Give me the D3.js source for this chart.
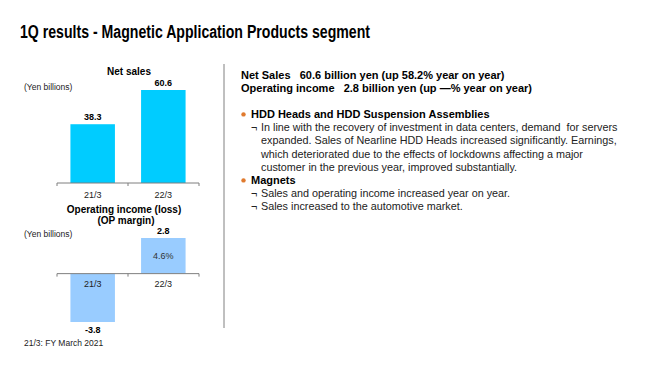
<!DOCTYPE html>
<html>
<head>
<meta charset="utf-8">
<script src="https://cdn.jsdelivr.net/npm/d3@7"></script>
<style>
  body { margin: 0; background: #fff; }
  text { font-family: "Liberation Sans", Arial, sans-serif; }
</style>
</head>
<body>
<script>
const W = 660, H = 371;

// data
const years = ["21/3", "22/3"];
const netSales = [38.3, 60.6];
const opIncome = [-3.8, 2.8];
const opMargin = [null, "4.6%"];

const headline = [
  "Net Sales   60.6 billion yen (up 58.2% year on year)",
  "Operating income   2.8 billion yen (up \u2014% year on year)"
];
const bullets = [
  {head: "HDD Heads and HDD Suspension Assemblies", items: [
    ["In line with the recovery of investment in data centers, demand  for servers",
     "expanded. Sales of Nearline HDD Heads increased significantly. Earnings,",
     "which deteriorated due to the effects of lockdowns affecting a major",
     "customer in the previous year, improved substantially."]
  ]},
  {head: "Magnets", items: [
    ["Sales and operating income increased year on year."],
    ["Sales increased to the automotive market."]
  ]}
];

const svg = d3.select("body").append("svg")
    .attr("width", W)
    .attr("height", H);

// title is a condensed face in the original, squeeze it to the same width
svg.append("text")
    .attr("x", 20).attr("y", 38)
    .attr("font-size", 17.5).attr("font-weight", "bold")
    .attr("fill", "#000")
    .attr("textLength", 350).attr("lengthAdjust", "spacingAndGlyphs")
    .text("1Q results - Magnetic Application Products segment");

// divider
svg.append("line")
    .attr("x1", 224).attr("x2", 224)
    .attr("y1", 64).attr("y2", 328)
    .attr("stroke", "#808080").attr("stroke-width", 1);

const x = d3.scaleBand().domain(years).range([57, 199]).paddingInner(0.37).paddingOuter(0.19);

function drawAxis(y0) {
  const g = svg.append("g");
  g.append("line").attr("x1", 57).attr("x2", 199).attr("y1", y0).attr("y2", y0)
      .attr("stroke", "#7f7f7f").attr("stroke-width", 1);
  g.selectAll(".tk").data([57, 128, 199]).join("line")
      .attr("x1", d => d).attr("x2", d => d)
      .attr("y1", y0).attr("y2", y0 + 3)
      .attr("stroke", "#7f7f7f");
}

// Net sales chart
const yS = d3.scaleLinear().domain([0, 60.6]).range([183, 90]);

svg.append("text").attr("x", 129).attr("y", 75).attr("text-anchor", "middle")
    .attr("font-size", 10).attr("font-weight", "bold").text("Net sales");
svg.append("text").attr("x", 24).attr("y", 90)
    .attr("font-size", 8.5).attr("fill", "#222").text("(Yen billions)");

svg.append("g").selectAll("rect").data(netSales).join("rect")
    .attr("x", (d, i) => x(years[i]))
    .attr("width", x.bandwidth())
    .attr("y", d => yS(d))
    .attr("height", d => yS(0) - yS(d))
    .attr("fill", "#00CCFF");
drawAxis(183);
svg.append("g").selectAll("text").data(netSales).join("text")
    .attr("x", (d, i) => x(years[i]) + x.bandwidth() / 2)
    .attr("y", d => yS(d) - 4)
    .attr("text-anchor", "middle").attr("font-size", 9).attr("font-weight", "bold")
    .text(d => d.toFixed(1));
svg.append("g").selectAll("text").data(years).join("text")
    .attr("x", d => x(d) + x.bandwidth() / 2)
    .attr("y", 198)
    .attr("text-anchor", "middle").attr("font-size", 9).attr("fill", "#222")
    .text(d => d);

// Operating income chart
const yO = d3.scaleLinear().domain([-3.8, 2.8]).range([322, 238]);

svg.append("text").attr("x", 124).attr("y", 213).attr("text-anchor", "middle")
    .attr("font-size", 10).attr("font-weight", "bold").text("Operating income (loss)");
svg.append("text").attr("x", 126).attr("y", 224).attr("text-anchor", "middle")
    .attr("font-size", 10).attr("font-weight", "bold").text("(OP margin)");
svg.append("text").attr("x", 24).attr("y", 237)
    .attr("font-size", 8.5).attr("fill", "#222").text("(Yen billions)");

svg.append("g").selectAll("rect").data(opIncome).join("rect")
    .attr("x", (d, i) => x(years[i]))
    .attr("width", x.bandwidth())
    .attr("y", d => yO(Math.max(0, d)))
    .attr("height", d => Math.abs(yO(d) - yO(0)))
    .attr("fill", "#99CCFF");
drawAxis(yO(0));
svg.append("g").selectAll("text").data(opIncome).join("text")
    .attr("x", (d, i) => x(years[i]) + x.bandwidth() / 2)
    .attr("y", d => d >= 0 ? yO(d) - 4 : yO(d) + 11)
    .attr("text-anchor", "middle").attr("font-size", 9).attr("font-weight", "bold")
    .text(d => d.toFixed(1));
svg.append("g").selectAll("text").data(opMargin).join("text")
    .attr("x", (d, i) => x(years[i]) + x.bandwidth() / 2)
    .attr("y", 259)
    .attr("text-anchor", "middle").attr("font-size", 9).attr("fill", "#333")
    .text(d => d || "");
svg.append("g").selectAll("text").data(years).join("text")
    .attr("x", d => x(d) + x.bandwidth() / 2)
    .attr("y", 287)
    .attr("text-anchor", "middle").attr("font-size", 9).attr("fill", "#222")
    .text(d => d);

svg.append("text").attr("x", 24).attr("y", 346)
    .attr("font-size", 8.5).attr("fill", "#222").text("21/3: FY March 2021");

// right text
const tx = 241;
svg.append("g").selectAll("text").data(headline).join("text")
    .attr("x", tx).attr("y", (d, i) => 79 + i * 12.5)
    .attr("font-size", 11).attr("font-weight", "bold")
    .attr("xml:space", "preserve")
    .text(d => d);

let yy = 118;
bullets.forEach(b => {
  svg.append("circle").attr("cx", tx + 2.5).attr("cy", yy - 3.6).attr("r", 2.2).attr("fill", "#E07A2E");
  svg.append("text").attr("x", tx + 10).attr("y", yy)
      .attr("font-size", 11).attr("font-weight", "bold").text(b.head);
  yy += 13.2;
  b.items.forEach(lines => {
    lines.forEach((l, j) => {
      if (j === 0) {
        svg.append("text").attr("x", tx + 10).attr("y", yy)
            .attr("font-size", 10.8).attr("fill", "#222").text("\u00AC");
      }
      svg.append("text").attr("x", tx + 20).attr("y", yy)
          .attr("font-size", 10.8).attr("fill", "#222")
          .attr("xml:space", "preserve").text(l);
      yy += 13.2;
    });
  });
});
</script>
</body>
</html>
